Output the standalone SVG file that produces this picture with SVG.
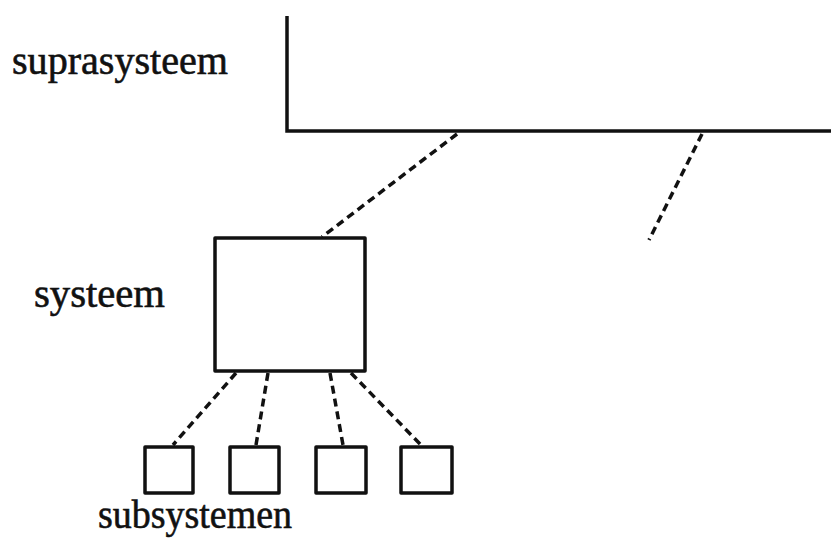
<svg xmlns="http://www.w3.org/2000/svg" width="831" height="538" viewBox="0 0 831 538">
  <style>
    .label { font-family: "Liberation Serif", "Times New Roman", serif; font-size: 40px; fill: #111; stroke: #111; stroke-width: 0.6; }
    .box { fill: none; stroke: #111; stroke-width: 3.5; stroke-linejoin: round; }
    .solid { fill: none; stroke: #111; stroke-width: 3.5; }
    .link { fill: none; stroke: #111; stroke-width: 3.5; stroke-dasharray: 8 5; }
  </style>
  <rect width="831" height="538" fill="#fff"/>

  <g id="suprasysteem">
    <path class="solid" d="M287 16 V131 H831"/>
    <text class="label" x="12" y="74" textLength="216" lengthAdjust="spacingAndGlyphs">suprasysteem</text>
  </g>

  <g id="systeem">
    <rect class="box" x="215" y="238" width="150" height="133"/>
    <text class="label" x="34" y="307" textLength="131" lengthAdjust="spacingAndGlyphs">systeem</text>
  </g>

  <g id="subsystemen">
    <rect class="box" x="145" y="447" width="48" height="46"/>
    <rect class="box" x="230" y="447" width="49" height="46"/>
    <rect class="box" x="316" y="447" width="50" height="46"/>
    <rect class="box" x="401" y="447" width="51" height="46"/>
    <text class="label" x="98" y="528" textLength="194" lengthAdjust="spacingAndGlyphs">subsystemen</text>
  </g>

  <g id="connectors">
    <line class="link" x1="457" y1="134" x2="322" y2="237"/>
    <line class="link" x1="702" y1="134" x2="649" y2="240"/>
    <line class="link" x1="236" y1="373" x2="173" y2="445"/>
    <line class="link" x1="268" y1="373" x2="256" y2="445"/>
    <line class="link" x1="330" y1="373" x2="343" y2="445"/>
    <line class="link" x1="351" y1="373" x2="421" y2="445"/>
  </g>
</svg>
